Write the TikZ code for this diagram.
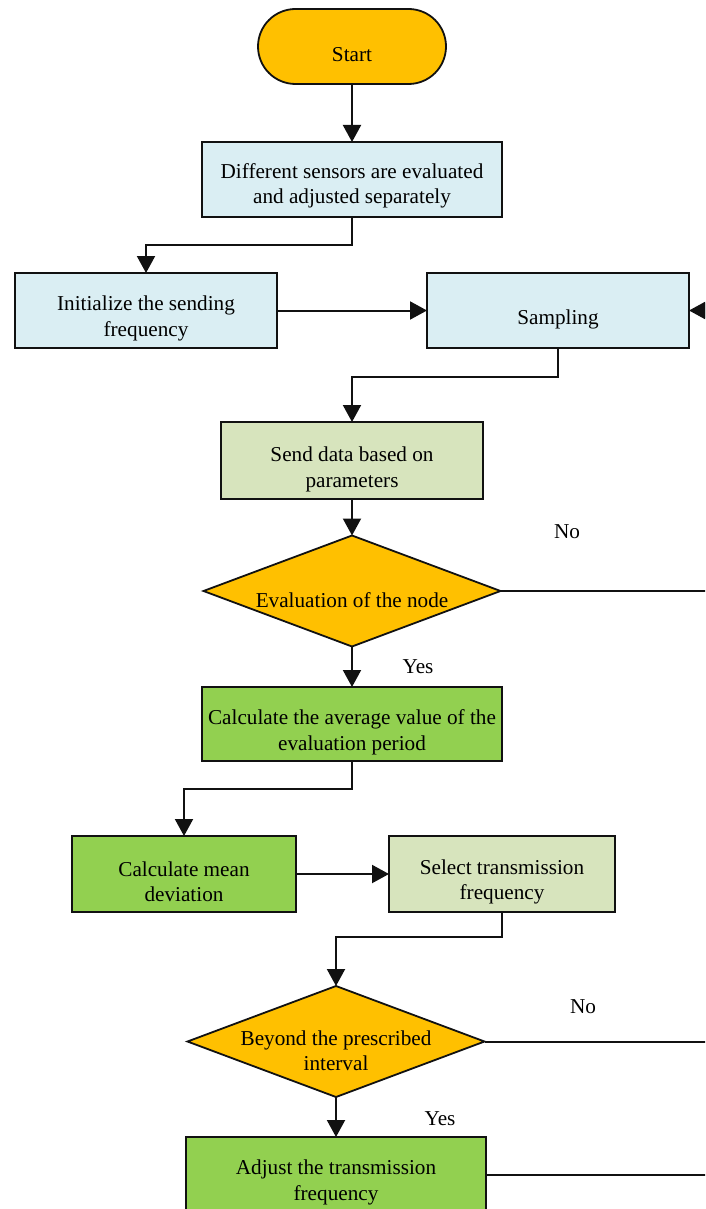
\documentclass[tikz,border=0pt]{standalone}
\usepackage{fontspec}
\setmainfont{Liberation Serif}
\usetikzlibrary{arrows.meta,shapes.geometric}
\definecolor{termfill}{HTML}{FFC000}
\definecolor{bluefill}{HTML}{DAEEF3}
\definecolor{olivefill}{HTML}{D7E4BD}
\definecolor{greenfill}{HTML}{92D050}
\definecolor{linec}{HTML}{111111}
\begin{document}
\begin{tikzpicture}[x=1pt,y=-1pt,
  shapebase/.style={draw=linec,line width=1.8pt,inner sep=0pt,outer sep=0pt},
  terminal/.style={shapebase,rectangle,rounded corners=37.5pt,fill=termfill,
    minimum width=188pt,minimum height=75pt},
  procbox/.style={shapebase,rectangle,minimum height=75pt},
  bluebox/.style={procbox,fill=bluefill},
  olivebox/.style={procbox,fill=olivefill},
  greenbox/.style={procbox,fill=greenfill},
  decision/.style={shapebase,diamond,fill=termfill,
    minimum width=297pt,minimum height=111pt},
  txt/.style={inner sep=0pt,align=center,text=black,
    font=\fontsize{21.2}{25.5}\selectfont},
  flow/.style={draw=linec,line width=2pt},
  arr/.style={flow,-{Triangle[length=17pt,width=18pt]}}]

\useasboundingbox (0,0) rectangle (705,1209);
\clip (0,0) rectangle (705,1209);

% shapes
\node[terminal] (start) at (352,46.5) {};
\node[bluebox,minimum width=300pt] (b1) at (352,179.5) {};
\node[bluebox,minimum width=262pt] (b2) at (146,310.5) {};
\node[bluebox,minimum width=262pt] (samp) at (558,310.5) {};
\node[olivebox,minimum width=262pt,minimum height=77pt] (b4) at (352,460.5) {};
\node[decision] (d1) at (352,591) {};
\node[greenbox,minimum width=300pt,minimum height=74pt] (b5) at (352,724) {};
\node[greenbox,minimum width=224pt,minimum height=76pt] (b6) at (184,874) {};
\node[olivebox,minimum width=226pt,minimum height=76pt] (b7) at (502,874) {};
\node[decision] (d2) at (336,1041.5) {};
\node[greenbox,minimum width=300pt] (b8) at (336,1174.5) {};

% texts
\node[txt] (tstart) at (352,55) {Start};
\node[txt] (tb1) at (352,186) {Different sensors are evaluated\\and adjusted separately};
\node[txt] (tb2) at (146,318.5) {Initialize the sending\\frequency};
\node[txt] (tsamp) at (558,319) {Sampling};
\node[txt] (tb4) at (352,469.5) {Send data based on\\parameters};
\node[txt] (td1) at (352,600) {Evaluation of the node};
\node[txt] (tb5) at (352,732.5) {Calculate the average value of the\\evaluation period};
\node[txt] (tb6) at (184,881.5) {Calculate mean\\deviation};
\node[txt] (tb7) at (502,882) {Select transmission\\frequency};
\node[txt] (td2) at (336,1050.5) {Beyond the prescribed\\interval};
\node[txt] (tb8) at (336,1182.5) {Adjust the transmission\\frequency};

% branch labels
\node[txt] (no1) at (567,532) {No};
\node[txt] (yes1) at (418,667) {Yes};
\node[txt] (no2) at (583,1007) {No};
\node[txt] (yes2) at (440,1119) {Yes};

% loose ends at the right margin
\coordinate (inR) at (706,310.5);
\coordinate (outD1) at (706,591);
\coordinate (outD2) at (706,1041.5);
\coordinate (outB8) at (706,1174.5);

% connectors
\draw[arr] (start) -- (b1);
\draw[arr] (b1.south) -- ++(0,28) -| (b2.north);
\draw[arr] (b2.east) -- (samp.west);
\draw[arr] (inR) -- (samp.east);
\draw[arr] (samp.south) -- ++(0,29) -| (b4.north);
\draw[arr] (b4) -- (d1);
\draw[flow] (d1.east) -- (outD1);
\draw[arr] (d1) -- (b5);
\draw[arr] (b5.south) -- ++(0,28) -| (b6.north);
\draw[arr] (b6.east) -- (b7.west);
\draw[arr] (b7.south) -- ++(0,25) -| (d2.north);
\draw[flow] (d2.east) -- (outD2);
\draw[arr] (d2) -- (b8);
\draw[flow] (b8.east) -- (outB8);
\end{tikzpicture}
\end{document}
